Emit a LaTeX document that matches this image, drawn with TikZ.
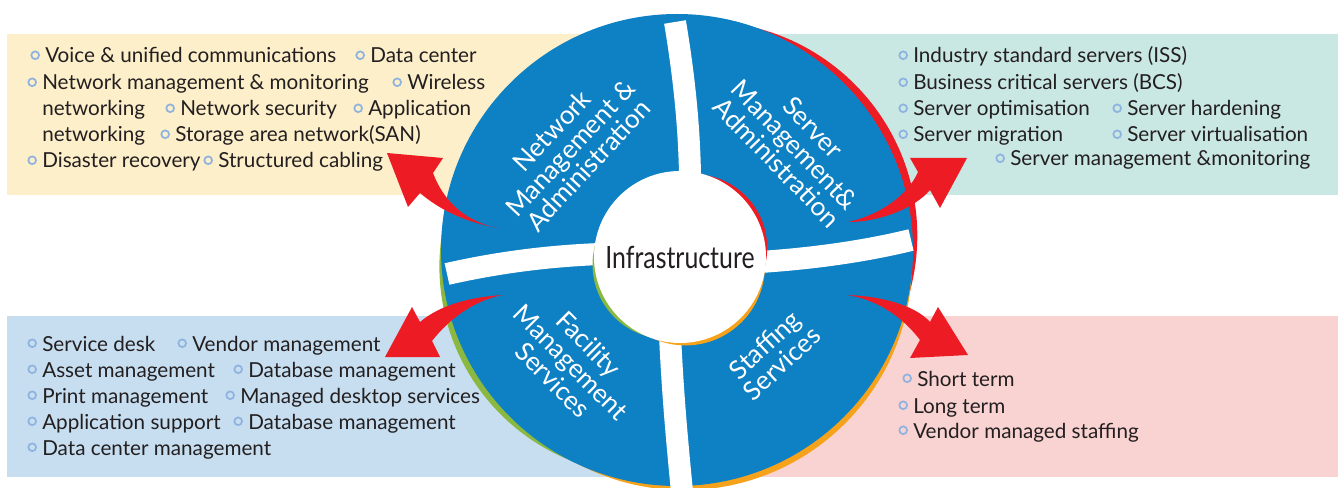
\documentclass[tikz,border=0pt]{standalone}
\usepackage{fontspec}
\setmainfont{Lato}
\usepackage{tikz}
\definecolor{discblue}{HTML}{0E80C4}
\definecolor{arrowred}{HTML}{ED1C24}
\definecolor{rimgreen}{HTML}{8AB840}
\definecolor{rimorange}{HTML}{F7A21B}
\definecolor{boxyellow}{HTML}{FCEFC9}
\definecolor{boxteal}{HTML}{C9E7E3}
\definecolor{boxblue}{HTML}{C7DEF1}
\definecolor{boxpink}{HTML}{F9D3D2}
\definecolor{dotblue}{HTML}{8FB3E0}
\definecolor{ink}{HTML}{231F20}
\tikzstyle{item}=[anchor=base west,inner sep=0pt,text=ink,font=\fontsize{15.5}{18}\selectfont]
\tikzstyle{lbl}=[align=center,text=white,inner sep=0pt,font=\fontsize{19.5}{19}\selectfont]
\tikzstyle{band}=[draw=white,line width=16.5pt]
\newcommand{\bl}{\llap{\tikz[baseline=-5.8pt]\draw[dotblue,line width=1.3pt] (0,0) circle (2.9pt);\hspace{4pt}}}

\begin{document}
\begin{tikzpicture}[x=0.75pt,y=-0.75pt]
  \useasboundingbox (0,0) rectangle (1338,488);
  \fill[boxyellow] (7,34) rectangle (677,195);
  \fill[boxteal] (677,34) rectangle (1338,195);
  \fill[boxblue] (7,316) rectangle (677,477);
  \fill[boxpink] (677,316) rectangle (1338,477);
  \fill[arrowred] (703,235.6) circle (214.3);
  \fill[rimgreen] (648.4,266.5) circle (209);
  \fill[rimorange] (684,262.1) circle (228);
  \fill[discblue] (677,250) circle (236);
  \draw[band] (675,22) .. controls (683,70) and (689,120) .. (690,175);
  \draw[band] (447,274) .. controls (500,262) and (550,256) .. (600,254);
  \draw[band] (760,262) .. controls (820,258) and (870,250) .. (911,240);
  \draw[band] (670,335) .. controls (673,400) and (678,450) .. (682,492);
  \fill[arrowred] (693.5,247.9) circle (73.7);
  \fill[rimorange] (685.5,266) circle (79.4);
  \fill[rimgreen] (667,264.5) circle (74.5);
  \node[circle,fill=white,minimum size=129pt,inner sep=0pt,text=ink,font=\fontsize{23}{23}\selectfont] (core) at (680,257) {\scalebox{0.81}[1]{Infrastructure}};
  \node[lbl,rotate=47] (netw) at (570,148) {Network\\Management \&\\Administration};
  \node[lbl,rotate=-46] (serv) at (795,145) {Server\\Management\&\\Administration};
  \node[lbl,rotate=-45] (facil) at (571,362) {Facility\\Management\\Services};
  \node[lbl,rotate=43] (staff) at (773,354) {Staffing\\Services};
  \fill[arrowred] (498,228) .. controls (465,222) and (440,210) .. (420,193) -- (408,207) -- (387,153) -- (443,158) -- (433,173) .. controls (443,200) and (465,222) .. (498,228) -- cycle;
  \fill[arrowred] (848,222) .. controls (880,215) and (908,195) .. (918,172) -- (910,158) -- (967,158) -- (940,208) -- (930,190) .. controls (915,208) and (880,222) .. (848,222) -- cycle;
  \fill[arrowred] (503,295) .. controls (470,297) and (440,305) .. (420,322) -- (412,307) -- (385,357) -- (440,357) -- (432,341) .. controls (450,318) and (475,300) .. (503,295) -- cycle;
  \fill[arrowred] (847,295) .. controls (880,296) and (915,305) .. (930,322) -- (938,307) -- (968,355) -- (910,358) -- (920,340) .. controls (905,320) and (880,300) .. (847,295) -- cycle;
  \node[item] (nw1) at (45,63) {\bl Voice \& unified communications};
  \node[item] (nw2) at (370,63) {\bl Data center};
  \node[item] (nw3) at (42,90) {\bl Network management \& monitoring};
  \node[item] (nw4) at (407,90) {\bl Wireless};
  \node[item] (nw5) at (42,116) {networking};
  \node[item] (nw6) at (180,116) {\bl Network security};
  \node[item] (nw7) at (368,116) {\bl Application};
  \node[item] (nw8) at (42,142) {networking};
  \node[item] (nw9) at (175,142) {\bl Storage area network(SAN)};
  \node[item] (nw10) at (42,168) {\bl Disaster recovery};
  \node[item] (nw11) at (218,168) {\bl Structured cabling};
  \node[item] (sv1) at (913,63) {\bl Industry standard servers (ISS)};
  \node[item] (sv2) at (913,90) {\bl Business critical servers (BCS)};
  \node[item] (sv3) at (913,116) {\bl Server optimisation};
  \node[item] (sv4) at (1127,116) {\bl Server hardening};
  \node[item] (sv5) at (913,142) {\bl Server migration};
  \node[item] (sv6) at (1127,142) {\bl Server virtualisation};
  \node[item] (sv7) at (1010,166) {\bl Server management \&monitoring};
  \node[item] (fc1) at (42,351) {\bl Service desk};
  \node[item] (fc2) at (192,351) {\bl Vendor management};
  \node[item] (fc3) at (42,377) {\bl Asset management};
  \node[item] (fc4) at (248,377) {\bl Database management};
  \node[item] (fc5) at (42,403) {\bl Print management};
  \node[item] (fc6) at (240,403) {\bl Managed desktop services};
  \node[item] (fc7) at (42,429) {\bl Application support};
  \node[item] (fc8) at (248,429) {\bl Database management};
  \node[item] (fc9) at (42,455) {\bl Data center management};
  \node[item] (st1) at (917,386) {\bl Short term};
  \node[item] (st2) at (913,413) {\bl Long term};
  \node[item] (st3) at (913,438) {\bl Vendor managed staffing};
\end{tikzpicture}
\end{document}
